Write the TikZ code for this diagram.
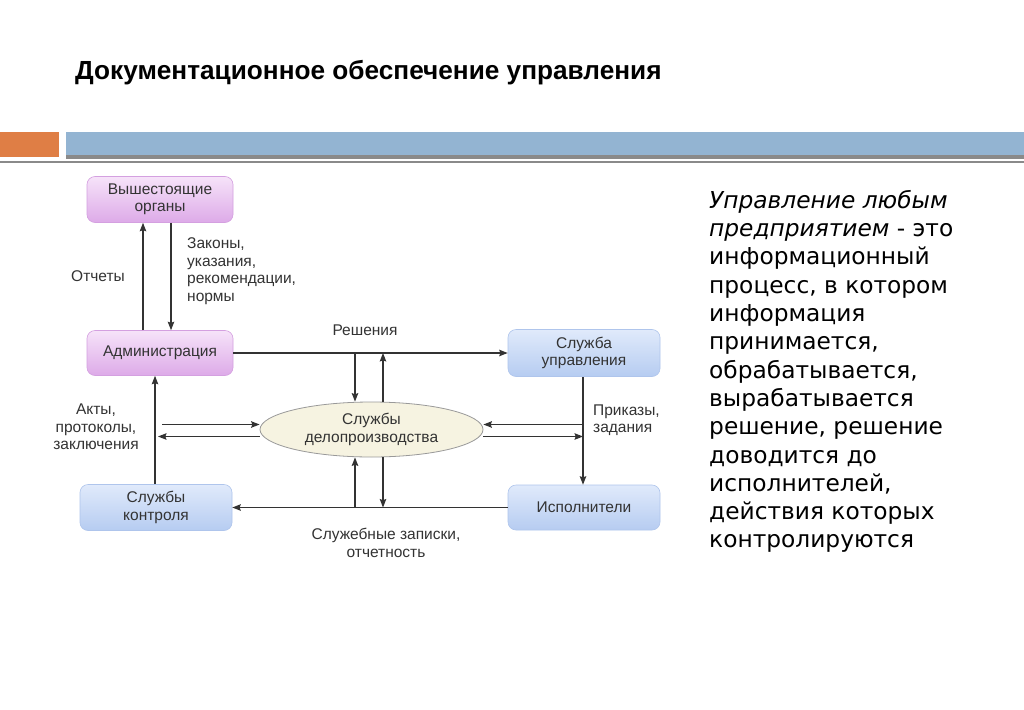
\documentclass[tikz,border=0pt]{standalone}
\usepackage{fontspec}
\setmainfont{Liberation Sans}
\newfontfamily\dvs{DejaVu Sans}
\usetikzlibrary{shapes.geometric,arrows.meta,calc}
\definecolor{barorange}{HTML}{DF7E45}
\definecolor{barblue}{HTML}{93B4D2}
\definecolor{bargray}{HTML}{8A8A8A}
\definecolor{ink}{HTML}{333333}
\definecolor{pinktop}{HTML}{F6E3F9}
\definecolor{pinkbot}{HTML}{DDAAE8}
\definecolor{pinkdraw}{HTML}{D4A0E0}
\definecolor{bluetop}{HTML}{E0EAFB}
\definecolor{bluebot}{HTML}{B6CCF1}
\definecolor{bluedraw}{HTML}{AFC5EC}
\definecolor{ellfill}{HTML}{F6F3E1}
\tikzset{
  pinkbox/.style={rounded corners=8pt, top color=pinktop, bottom color=pinkbot, draw=pinkdraw, line width=0.6pt, align=center, text=ink, font=\fontsize{15.5}{17.5}\selectfont, inner sep=0pt},
  bluebox/.style={rounded corners=8pt, top color=bluetop, bottom color=bluebot, draw=bluedraw, line width=0.6pt, align=center, text=ink, font=\fontsize{15.5}{17.5}\selectfont, inner sep=0pt},
  lbl/.style={text=ink, font=\fontsize{15.5}{17.5}\selectfont, inner sep=0pt},
  arr/.style={draw=ink, line width=1.2pt, -{Stealth[length=8.5pt,width=6.5pt,inset=1.2pt]}}
}
\begin{document}
\begin{tikzpicture}[x=1pt,y=-1pt]
\useasboundingbox (0,0) rectangle (1024,709);
\fill[white] (0,0) rectangle (1024,709);
% title
\node[anchor=base west, inner sep=0pt, font=\bfseries\fontsize{26.2}{30}\selectfont] (title) at (75,79) {Документационное обеспечение управления};
% bars
\fill[barorange] (0,132) rectangle (59,157);
\fill[barblue] (66,132) rectangle (1024,156);
\fill[bargray] (66,155) rectangle (1024,159);
\fill[bargray] (0,160.5) rectangle (1024,163);
% nodes
\node[pinkbox, minimum width=146pt, minimum height=46pt] (vo) at (160,199.5) {Вышестоящие\\органы};
\node[pinkbox, minimum width=146pt, minimum height=45pt] (adm) at (160,353) {Администрация};
\node[bluebox, minimum width=152pt, minimum height=46pt] (sk) at (156,507.5) {Службы\\контроля};
\node[bluebox, minimum width=152pt, minimum height=47pt] (su) at (584,353) {Служба\\управления};
\node[bluebox, minimum width=152pt, minimum height=45pt] (isp) at (584,507.5) {Исполнители};
\node[ellipse, draw=gray!80, fill=ellfill, line width=0.8pt, minimum width=223pt, minimum height=55pt, inner sep=0pt, align=center, text=ink, font=\fontsize{15.5}{17.5}\selectfont] (ell) at (371.5,429.5) {Службы\\делопроизводства};
% helper coordinates
\coordinate (xa) at (143,0);
\coordinate (xb) at (171,0);
\coordinate (xl) at (155,0);
\coordinate (xr) at (583,0);
\coordinate (t1) at (355,353);
\coordinate (t2) at (383,353);
\coordinate (b1) at (355,507.5);
\coordinate (b2) at (383,507.5);
\coordinate (r1) at (583,424.5);
\coordinate (r2) at (583,436.5);
\coordinate (l1) at (162,424.5);
\coordinate (l2) at (158,436.5);
% connectors
\draw[arr] (adm.north -| xa) -- (vo.south -| xa);
\draw[arr] (vo.south -| xb) -- (adm.north -| xb);
\draw[arr] (adm.east) -- (su.west);
\draw[arr] (t1) -- (ell.north -| t1);
\draw[arr] (ell.north -| t2) -- (t2);
\draw[arr] (su.south -| xr) -- (isp.north -| xr);
\draw[arr] (r1) -- (r1 -| ell.east);
\draw[arr] (r2 -| ell.east) -- (r2);
\draw[arr] (l1) -- (l1 -| ell.west);
\draw[arr] (l2 -| ell.west) -- (l2);
\draw[arr] (sk.north -| xl) -- (adm.south -| xl);
\draw[arr] (isp.west) -- (sk.east);
\draw[arr] (b1) -- (ell.south -| b1);
\draw[arr] (ell.south -| b2) -- (b2);
% labels
\node[lbl] (lotch) at (98,276) {Отчеты};
\node[lbl, anchor=west, align=left] (lzak) at (187,271) {Законы,\\указания,\\рекомендации,\\нормы};
\node[lbl] (lres) at (365,330) {Решения};
\node[lbl, anchor=west, align=left] (lpr) at (593,420) {Приказы,\\задания};
\node[lbl, align=center] (lsz) at (386,543) {Служебные записки,\\отчетность};
\node[lbl, align=center] (lakt) at (96,427) {Акты,\\протоколы,\\заключения};
% right text
\node[anchor=north west, inner sep=0pt, align=left, text=black, font=\dvs\fontsize{23.3}{28.3}\selectfont] (rt) at (709,190) {\textit{Управление любым}\\\textit{предприятием} - это\\информационный\\процесс, в котором\\информация\\принимается,\\обрабатывается,\\вырабатывается\\решение, решение\\доводится до\\исполнителей,\\действия которых\\контролируются};
\end{tikzpicture}
\end{document}
